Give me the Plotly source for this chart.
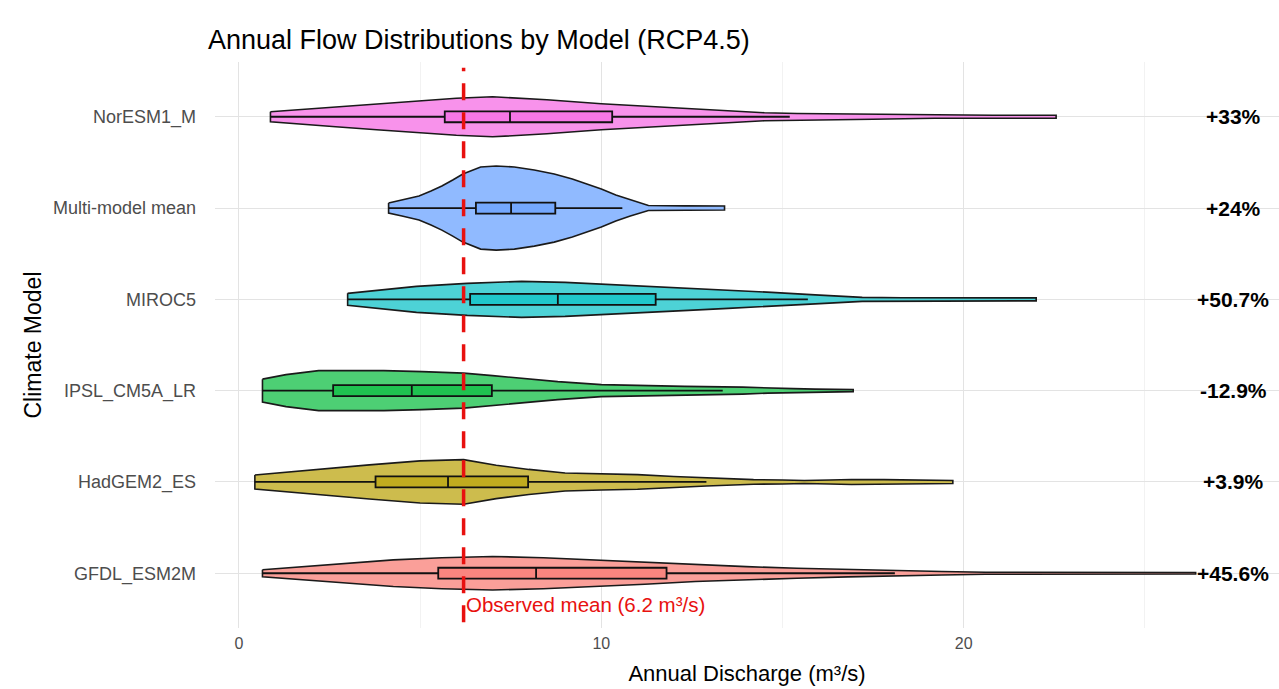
import plotly.graph_objects as go

# ---------------- data ----------------
models = ["GFDL_ESM2M", "HadGEM2_ES", "IPSL_CM5A_LR", "MIROC5", "Multi-model mean", "NorESM1_M"]
colors = ["#F8766D", "#B79F00", "#00BA38", "#00BFC4", "#619CFF", "#F564E3"]
change_labels = ["+45.6%", "+3.9%", "-12.9%", "+50.7%", "+24%", "+33%"]
observed_mean = 6.2

# violin density profiles (discharge positions, density half-widths)
gfdl_x = [0.65, 1.2, 2.4, 4.26, 5.6, 7.0, 8.4, 9.8, 11.2, 12.6, 14.0, 15.4, 16.8, 18.1, 19.4, 20.6, 22.0, 23.7, 25.0, 26.4]
gfdl_d = [3.5, 5.0, 8.3, 13.3, 15.5, 16.7, 15.5, 13.3, 11.0, 8.3, 6.6, 5.0, 3.6, 2.3, 1.7, 1.0, 0.9, 0.8, 0.8, 0.8]

had_x = [0.44, 1.2, 2.3, 3.6, 5.0, 6.2, 7.1, 8.0, 9.0, 10.0, 11.0, 12.0, 12.9, 14.2, 15.0, 15.6, 16.3, 16.9, 17.8, 18.7, 19.7]
had_d = [7.0, 9.5, 13.0, 17.0, 21.0, 22.3, 16.7, 12.5, 9.0, 8.0, 7.3, 5.5, 4.0, 2.3, 2.0, 1.5, 2.0, 2.5, 2.3, 2.0, 1.5]

ipsl_x = [0.65, 1.3, 2.2, 3.1, 4.0, 5.06, 6.2, 7.0, 7.7, 8.8, 10.0, 11.2, 12.3, 13.9, 14.6, 15.3, 15.9, 16.4, 16.95]
ipsl_d = [11.5, 16.0, 20.0, 20.0, 20.0, 19.0, 17.5, 15.0, 12.7, 9.0, 6.0, 5.0, 4.3, 3.5, 2.5, 2.0, 1.5, 1.2, 1.0]

miroc_x = [3.0, 3.9, 4.9, 6.3, 7.8, 9.0, 10.2, 11.3, 12.4, 13.5, 14.7, 15.9, 17.2, 18.3, 19.2, 20.5, 22.0]
miroc_d = [6.0, 9.5, 13.0, 16.0, 18.0, 17.0, 15.0, 13.0, 11.0, 9.0, 7.0, 4.5, 2.0, 1.6, 1.5, 1.5, 1.5]

mmm_x = [4.13, 4.5, 4.97, 5.3, 5.6, 5.9, 6.18, 6.67, 7.1, 7.6, 8.15, 8.7, 9.2, 9.6, 10.0, 10.4, 10.8, 11.3, 12.3, 13.4]
mmm_d = [5.0, 8.0, 12.0, 17.0, 22.0, 28.0, 34.0, 41.0, 42.0, 41.0, 38.0, 34.0, 29.0, 24.0, 19.0, 13.0, 8.0, 2.5, 2.2, 2.0]

nor_x = [0.87, 1.8, 2.67, 3.8, 4.9, 6.0, 7.0, 8.5, 10.0, 11.2, 12.4, 13.5, 14.5, 15.4, 16.2, 17.5, 19.2, 20.8, 22.55]
nor_d = [5.0, 7.5, 10.0, 13.0, 16.0, 18.5, 20.0, 17.0, 13.0, 10.5, 8.0, 6.0, 4.0, 3.2, 3.0, 2.5, 1.5, 1.5, 1.5]

violin_x = [gfdl_x, had_x, ipsl_x, miroc_x, mmm_x, nor_x]
violin_d = [gfdl_d, had_d, ipsl_d, miroc_d, mmm_d, nor_d]

# box-plot statistics
q1 = [5.5, 3.77, 2.6, 6.38, 6.54, 5.68]
median = [8.2, 5.77, 4.77, 8.8, 7.51, 7.48]
q3 = [11.8, 7.98, 6.98, 11.5, 8.73, 10.3]
lower = [0.65, 0.44, 0.65, 3.0, 4.13, 0.87]
upper = [18.1, 12.9, 13.35, 15.7, 10.58, 15.2]

# ---------------- figure ----------------
PX_PER_CAT = 91.2  # converts density half-width (px) to category units
FONT = "Liberation Sans, Arial, sans-serif"


def rgba(hex_color, a):
    h = hex_color.lstrip("#")
    r, g, b = int(h[0:2], 16), int(h[2:4], 16), int(h[4:6], 16)
    return f"rgba({r},{g},{b},{a})"


def mix_white(hex_color, a):
    h = hex_color.lstrip("#")
    c = [int(h[k:k + 2], 16) for k in (0, 2, 4)]
    return "rgb(" + ",".join(str(round(a * v + (1 - a) * 255)) for v in c) + ")"


fig = go.Figure()

for i, m in enumerate(models):
    xs = violin_x[i]
    ws = [d / PX_PER_CAT for d in violin_d[i]]
    px = list(xs) + list(reversed(xs)) + [xs[0]]
    py = [i + w for w in ws] + [i - w for w in reversed(ws)] + [i + ws[0]]
    fig.add_trace(go.Scatter(
        x=px, y=py, mode="lines", fill="toself",
        fillcolor=mix_white(colors[i], 0.7),
        line=dict(color="#1a1a1a", width=1.6),
        name=m, showlegend=False, hoverinfo="skip",
    ))
    # boxes on an overlaid axis so they are drawn above the violin fills
    fig.add_trace(go.Box(
        y=[i], q1=[q1[i]], median=[median[i]], q3=[q3[i]],
        lowerfence=[lower[i]], upperfence=[upper[i]],
        orientation="h", width=0.12, whiskerwidth=0,
        fillcolor=mix_white(colors[i], 0.88),
        line=dict(color="#111111", width=1.8),
        boxpoints=False, showlegend=False, name=m, yaxis="y2",
    ))
    fig.add_annotation(
        x=27.44, y=i, text=f"<b>{change_labels[i]}</b>", showarrow=False,
        xanchor="center", yanchor="middle",
        font=dict(size=21, color="black", family=FONT),
    )

fig.add_shape(
    type="line", xref="x", yref="paper", x0=observed_mean, x1=observed_mean, y0=0.01, y1=0.99,
    line=dict(color="#E8110F", width=3.5, dash="17px,12px"), layer="above",
)
fig.add_annotation(
    x=observed_mean, y=-0.34, text="Observed mean (6.2 m³/s)", showarrow=False,
    xanchor="left", yanchor="middle", xshift=0,
    font=dict(size=20.5, color="#E8110F", family=FONT),
)

fig.update_layout(
    width=1279, height=689,
    margin=dict(l=215, r=0, t=62, b=61, autoexpand=False),
    paper_bgcolor="white", plot_bgcolor="white",
    font=dict(family=FONT),
    title=dict(
        text="Annual Flow Distributions by Model (RCP4.5)",
        x=208 / 1279, xanchor="left", xref="container",
        y=1 - 40 / 689, yanchor="middle", yref="container",
        font=dict(size=27, color="black"),
        automargin=False,
    ),
    xaxis=dict(
        range=[-0.66, 28.7], tickvals=[0, 10, 20], ticktext=["0", "10", "20"],
        showgrid=True, gridcolor="#E3E3E3", gridwidth=1, zeroline=False,
        minor=dict(tickvals=[5, 15, 25], showgrid=True, gridcolor="#F2F2F2", gridwidth=1),
        showline=False, ticks="", automargin=False, ticklabelstandoff=4,
        tickfont=dict(size=16, color="#4D4D4D"),
        title=dict(text="Annual Discharge (m³/s)", font=dict(size=22, color="black"), standoff=14),
    ),
    yaxis=dict(
        range=[-0.6, 5.6], tickvals=list(range(len(models))), ticktext=models,
        showgrid=True, gridcolor="#E3E3E3", gridwidth=1, zeroline=False,
        showline=False, ticks="", ticklabelstandoff=18, automargin=False,
        tickfont=dict(size=18, color="#4D4D4D"),
        title=dict(text="Climate Model", font=dict(size=23, color="black"), standoff=4),
    ),
    yaxis2=dict(
        range=[-0.6, 5.6], overlaying="y", side="left", visible=False,
        showgrid=False, zeroline=False,
    ),
)

fig.write_html(
    "out.html",
    config={"displayModeBar": False},
    post_script="document.body.style.margin='0';document.body.style.overflow='hidden';",
)
